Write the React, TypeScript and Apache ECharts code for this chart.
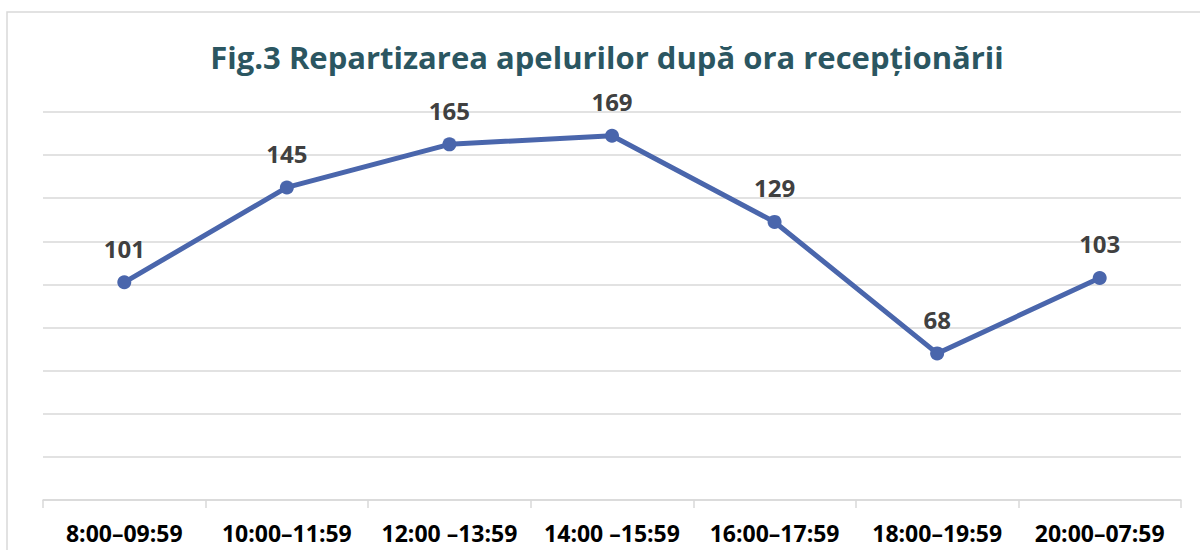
import React, { useEffect, useRef } from "react";
import * as echarts from "echarts";

const titleText = "Fig.3 Repartizarea apelurilor după ora recepționării";
const categories = [
  "8:00–09:59",
  "10:00–11:59",
  "12:00 –13:59",
  "14:00 –15:59",
  "16:00–17:59",
  "18:00–19:59",
  "20:00–07:59",
];
const calls = [101, 145, 165, 169, 129, 68, 103];
const yMin = 0;
const yMax = 180;
const yStep = 20;

export default function App() {
  const ref = useRef<HTMLDivElement>(null);
  useEffect(() => {
    if (!ref.current) return;
    const chart = echarts.init(ref.current, null, { renderer: "svg" });
    const font = "'Open Sans', sans-serif";
    chart.setOption({
      animation: false,
      backgroundColor: "#ffffff",
      graphic: [
        {
          type: "rect",
          shape: { x: 7, y: 12, width: 1260, height: 600 },
          style: { fill: "none", stroke: "#d9d9d9", lineWidth: 1.5 },
          silent: true,
        },
        {
          type: "text",
          x: 607,
          y: 57,
          style: {
            text: titleText,
            fill: "#2b5661",
            font: `bold 31px ${font}`,
            textAlign: "center",
            textVerticalAlign: "middle",
          },
        },
      ],
      grid: { left: 43, right: 19, top: 112, bottom: 50, containLabel: false },
      xAxis: {
        type: "category",
        data: categories,
        boundaryGap: true,
        axisLine: { show: true, lineStyle: { color: "#d9d9d9", width: 1.5 } },
        axisTick: { show: true, length: 8, lineStyle: { color: "#d9d9d9", width: 1.5 } },
        axisLabel: {
          color: "#000000",
          fontFamily: font,
          fontWeight: "bold",
          fontSize: 23,
          margin: 21,
          interval: 0,
        },
        splitLine: { show: false },
      },
      yAxis: {
        type: "value",
        min: yMin,
        max: yMax,
        interval: yStep,
        axisLine: { show: false },
        axisTick: { show: false },
        axisLabel: { show: false },
        splitLine: { show: true, lineStyle: { color: "#d9d9d9", width: 1.5 } },
      },
      series: [
        {
          type: "line",
          data: calls,
          symbol: "circle",
          symbolSize: 14,
          itemStyle: { color: "#4a66ac" },
          lineStyle: { color: "#4a66ac", width: 5 },
          label: {
            show: true,
            position: "top",
            distance: 15,
            color: "#404040",
            fontFamily: font,
            fontWeight: "bold",
            fontSize: 24,
          },
        },
      ],
    });
    return () => chart.dispose();
  }, []);
  return (
    <div
      ref={ref}
      style={{ position: "fixed", left: 0, top: 0, width: 1200, height: 550 }}
    />
  );
}
